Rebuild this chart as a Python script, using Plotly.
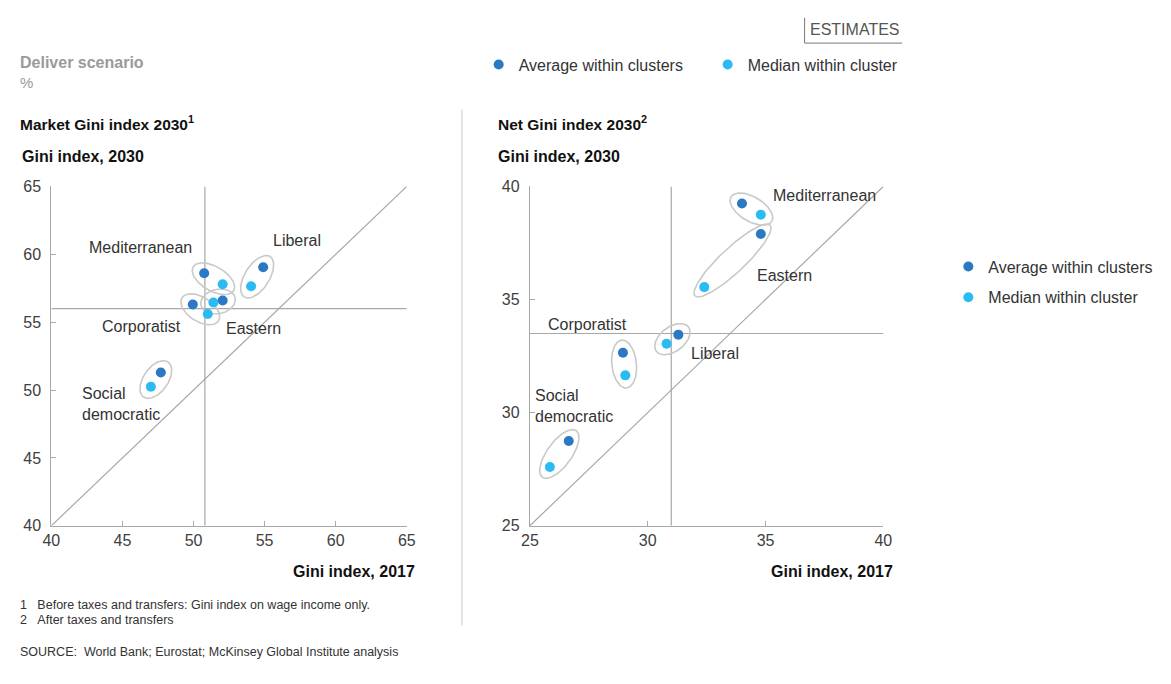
import numpy as np
import plotly.graph_objects as go

W, H = 1171, 684

clusters = ["Mediterranean", "Liberal", "Corporatist", "Eastern", "Social democratic"]

market_avg_x = [50.75, 54.9, 49.95, 52.05, 47.7]
market_avg_y = [58.6, 59.05, 56.3, 56.6, 51.3]
market_med_x = [52.05, 54.05, 51.0, 51.4, 47.0]
market_med_y = [57.8, 57.65, 55.6, 56.45, 50.25]

net_avg_x = [34.0, 31.3, 28.95, 34.8, 26.65]
net_avg_y = [39.25, 33.45, 32.65, 37.9, 28.75]
net_med_x = [34.8, 30.8, 29.05, 32.4, 25.85]
net_med_y = [38.75, 33.05, 31.65, 35.55, 27.6]

market_ref = (50.8, 56.0)
net_ref = (31.0, 33.5)

market_range = [40, 65]
net_range = [25, 40]
market_ticks = [40, 45, 50, 55, 60, 65]
net_ticks = [25, 30, 35, 40]

# label positions (data coords)
market_labels = {"Mediterranean": (46.3, 60.5), "Liberal": (57.3, 61.05),
                 "Corporatist": (46.35, 54.65), "Eastern": (54.25, 54.5),
                 "Social democratic": (42.05, 49.0)}
net_labels = {"Mediterranean": (37.5, 39.6), "Liberal": (32.85, 32.6),
              "Corporatist": (27.45, 33.92), "Eastern": (35.8, 36.06),
              "Social democratic": (25.15, 30.3)}

AVG = "#2b79c4"
MED = "#2bbbf3"
AX = "#a8a8a8"
TXT = "#333333"
FONT = "Liberation Sans, Arial, sans-serif"

# pixel layout
LX0, LX1 = 43, 404
RX0, RX1 = 529, 888
YT, YB = 183, 531


def fx(p):
    return p / W


def fy(p):
    return 1 - p / H


fig = go.Figure()


def ellipse(p1, p2, sx, sy, pad=13, b=12.5):
    P1 = np.array([p1[0] * sx, p1[1] * sy])
    P2 = np.array([p2[0] * sx, p2[1] * sy])
    c = (P1 + P2) / 2
    d = P2 - P1
    L = np.linalg.norm(d)
    u = d / L
    v = np.array([-u[1], u[0]])
    a = L / 2 + pad
    t = np.linspace(0, 2 * np.pi, 120)
    pts = c[None, :] + np.outer(a * np.cos(t), u) + np.outer(b * np.sin(t), v)
    return pts[:, 0] / sx, pts[:, 1] / sy


panels = [
    dict(xa="x", ya="y", ax=market_avg_x, ay=market_avg_y, mx=market_med_x, my=market_med_y,
         rng=market_range, ref=market_ref, labels=market_labels, legend="legend",
         sx=(LX1 - LX0) / (market_range[1] - market_range[0]),
         sy=(YB - YT) / (market_range[1] - market_range[0])),
    dict(xa="x2", ya="y2", ax=net_avg_x, ay=net_avg_y, mx=net_med_x, my=net_med_y,
         rng=net_range, ref=net_ref, labels=net_labels, legend="legend2",
         sx=(RX1 - RX0) / (net_range[1] - net_range[0]),
         sy=(YB - YT) / (net_range[1] - net_range[0])),
]

for p in panels:
    lo, hi = p["rng"]
    # diagonal
    fig.add_trace(go.Scatter(x=[lo, hi], y=[lo, hi], mode="lines", xaxis=p["xa"], yaxis=p["ya"],
                             line=dict(color=AX, width=1.2), showlegend=False, hoverinfo="skip"))
    # reference lines
    fig.add_trace(go.Scatter(x=[p["ref"][0], p["ref"][0]], y=[lo, hi], mode="lines",
                             xaxis=p["xa"], yaxis=p["ya"], line=dict(color=AX, width=1.2),
                             showlegend=False, hoverinfo="skip"))
    fig.add_trace(go.Scatter(x=[lo, hi], y=[p["ref"][1], p["ref"][1]], mode="lines",
                             xaxis=p["xa"], yaxis=p["ya"], line=dict(color=AX, width=1.2),
                             showlegend=False, hoverinfo="skip"))
    # ellipses
    for i in range(len(clusters)):
        ex, ey = ellipse((p["ax"][i], p["ay"][i]), (p["mx"][i], p["my"][i]), p["sx"], p["sy"])
        fig.add_trace(go.Scatter(x=ex, y=ey, mode="lines", xaxis=p["xa"], yaxis=p["ya"],
                                 line=dict(color="#c9c9c9", width=1.6), showlegend=False,
                                 hoverinfo="skip"))
    fig.add_trace(go.Scatter(x=p["ax"], y=p["ay"], mode="markers", xaxis=p["xa"], yaxis=p["ya"],
                             marker=dict(color=AVG, size=10), name="Average within clusters",
                             legend=p["legend"], legendgroup=p["legend"] + "a", text=clusters))
    fig.add_trace(go.Scatter(x=p["mx"], y=p["my"], mode="markers", xaxis=p["xa"], yaxis=p["ya"],
                             marker=dict(color=MED, size=10), name="Median within cluster",
                             legend=p["legend"], legendgroup=p["legend"] + "m", text=clusters))
    for name in clusters:
        lx, ly = p["labels"][name]
        if name == "Social democratic":
            fig.add_annotation(x=lx, y=ly, xref=p["xa"], yref=p["ya"], text="Social<br>democratic",
                               showarrow=False, xanchor="left", align="left",
                               font=dict(size=16, color=TXT))
        else:
            fig.add_annotation(x=lx, y=ly, xref=p["xa"], yref=p["ya"], text=name,
                               showarrow=False, font=dict(size=16, color=TXT))

axis_common = dict(showline=True, linecolor=AX, linewidth=1.2, ticks="inside", ticklen=5,
                   tickcolor=AX, showgrid=False, zeroline=False,
                   tickfont=dict(size=16, color="#404040"), fixedrange=True)

fig.update_layout(
    width=W, height=H,
    margin=dict(l=0, r=0, t=0, b=0),
    paper_bgcolor="white", plot_bgcolor="white",
    font=dict(family=FONT, color=TXT),
    xaxis=dict(domain=[fx(LX0), fx(LX1)], range=market_range, tickvals=market_ticks,
               anchor="y", **axis_common),
    yaxis=dict(domain=[fy(YB), fy(YT)], range=market_range, tickvals=market_ticks,
               anchor="x", ticklabelstandoff=6, **axis_common),
    xaxis2=dict(domain=[fx(RX0), fx(RX1)], range=net_range, tickvals=net_ticks,
                anchor="y2", **axis_common),
    yaxis2=dict(domain=[fy(YB), fy(YT)], range=net_range, tickvals=net_ticks,
                anchor="x2", ticklabelstandoff=6, **axis_common),
    legend=dict(orientation="h", x=fx(477), y=fy(58), xanchor="left", yanchor="middle",
                font=dict(size=16, color=TXT), itemwidth=30, entrywidth=184,
                tracegroupgap=0,
                bgcolor="rgba(0,0,0,0)", itemclick=False, itemdoubleclick=False),
    legend2=dict(orientation="v", x=fx(954), y=fy(281), xanchor="left", yanchor="middle",
                 font=dict(size=16, color=TXT), tracegroupgap=7,
                 bgcolor="rgba(0,0,0,0)", itemclick=False, itemdoubleclick=False),
    showlegend=True,
)


def txt(x, y, s, size=15, color=TXT, bold=False, xanchor="left"):
    if bold:
        s = "<b>" + s + "</b>"
    fig.add_annotation(x=fx(x), y=fy(y), xref="paper", yref="paper", text=s, showarrow=False,
                       xanchor=xanchor, yanchor="middle", font=dict(size=size, color=color))


txt(9, 56, "Deliver scenario", size=16, color="#9a9a9a", bold=True)
txt(9, 76, "%", size=15, color="#9a9a9a")
txt(9, 118, "Market Gini index 2030<sup>1</sup>", size=15.5, color="#111", bold=True)
txt(495, 118, "Net Gini index 2030<sup>2</sup>", size=15.5, color="#111", bold=True)
txt(11, 152, "Gini index, 2030", size=16, color="#111", bold=True)
txt(495, 152, "Gini index, 2030", size=16, color="#111", bold=True)
txt(414, 578, "Gini index, 2017", size=16, color="#111", bold=True, xanchor="right")
txt(900, 578, "Gini index, 2017", size=16, color="#111", bold=True, xanchor="right")
txt(9, 612, "1&nbsp;&nbsp;&nbsp;Before taxes and transfers: Gini index on wage income only.", size=12.5)
txt(9, 628, "2&nbsp;&nbsp;&nbsp;After taxes and transfers", size=12.5)
txt(9, 660, "SOURCE:&nbsp;&nbsp;World Bank; Eurostat; McKinsey Global Institute analysis", size=12.5)
txt(811, 22, "ESTIMATES", size=16, color="#555")

# ESTIMATES bracket and separator
fig.add_shape(type="line", xref="paper", yref="paper", x0=fx(808), x1=fx(808), y0=fy(10), y1=fy(36),
              line=dict(color="#777", width=1))
fig.add_shape(type="line", xref="paper", yref="paper", x0=fx(808), x1=fx(907), y0=fy(36), y1=fy(36),
              line=dict(color="#777", width=1))
fig.add_shape(type="line", xref="paper", yref="paper", x0=fx(460), x1=fx(460), y0=fy(104), y1=fy(633),
              line=dict(color="#dcdcdc", width=1.5))

fig.write_html("out.html")
